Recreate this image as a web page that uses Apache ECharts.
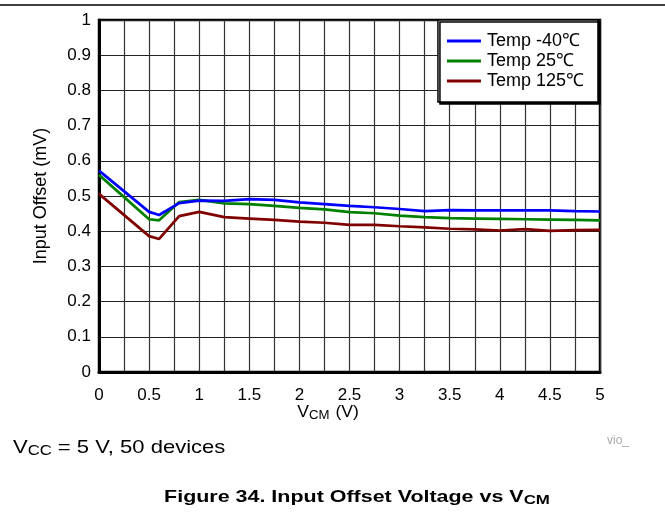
<!DOCTYPE html>
<html>
<head>
<meta charset="utf-8">
<script src="https://cdn.jsdelivr.net/npm/echarts@6/dist/echarts.min.js"></script>
<style>html,body{margin:0;padding:0;background:#fff;}#c{width:665px;height:516px;}</style>
</head>
<body>
<div id="c"></div>
<script>
const vcm = [0, 0.5, 0.6, 0.8, 1.0, 1.25, 1.5, 1.75, 2.0, 2.25, 2.5, 2.75, 3.0, 3.25, 3.5, 3.75, 4.0, 4.25, 4.5, 4.75, 5.0];
const tempM40 = [0.572, 0.455, 0.446, 0.480, 0.487, 0.486, 0.491, 0.489, 0.482, 0.477, 0.472, 0.468, 0.463, 0.457, 0.460, 0.459, 0.459, 0.459, 0.459, 0.457, 0.456];
const temp25 = [0.560, 0.434, 0.431, 0.483, 0.489, 0.479, 0.477, 0.472, 0.466, 0.462, 0.454, 0.451, 0.444, 0.440, 0.437, 0.436, 0.435, 0.434, 0.433, 0.432, 0.431];
const temp125 = [0.506, 0.386, 0.378, 0.443, 0.455, 0.440, 0.436, 0.432, 0.427, 0.424, 0.418, 0.418, 0.414, 0.411, 0.407, 0.405, 0.402, 0.406, 0.401, 0.403, 0.404];
const seriesNames = ['Temp -40℃', 'Temp 25℃', 'Temp 125℃'];
const xTicks = [0, 0.5, 1, 1.5, 2, 2.5, 3, 3.5, 4, 4.5, 5];

const pair = arr => vcm.map((x, i) => [x, arr[i]]);
const FONT = 'Liberation Sans, Arial, sans-serif';
const chart = echarts.init(document.getElementById('c'));
const colors = ['#0000ff', '#008000', '#800000'];
chart.setOption({
  animation: false,
  textStyle: { fontFamily: FONT },
  grid: { left: 99, right: 65, top: 20, bottom: 144, show: true, borderColor: '#000', borderWidth: 2.5, backgroundColor: 'transparent' },
  legend: {
    orient: 'vertical', right: 67, top: 20,
    itemWidth: 34, itemHeight: 3, itemGap: 2,
    padding: [12, 14, 12, 9],
    backgroundColor: '#fff', borderColor: '#000', borderWidth: 1.5,
    shadowColor: '#000', shadowBlur: 0, shadowOffsetX: 2, shadowOffsetY: 2,
    textStyle: { fontSize: 18, color: '#000', fontFamily: FONT, padding: [0, 0, 0, 1], lineHeight: 18 },
    icon: 'rect',
    data: seriesNames
  },
  xAxis: {
    type: 'value', min: 0, max: 5, interval: 0.25,
    axisLine: { show: true, lineStyle: { color: '#000', width: 3 } },
    axisTick: { show: false },
    splitLine: { show: true, lineStyle: { color: '#333', width: 1.2 } },
    axisLabel: {
      color: '#000', fontSize: 17, margin: 15, fontFamily: FONT,
      formatter: v => xTicks.some(t => Math.abs(t - v) < 1e-9) ? String(v) : ''
    }
  },
  yAxis: {
    type: 'value', min: 0, max: 1, interval: 0.1,
    axisLine: { show: true, lineStyle: { color: '#000', width: 3 } },
    axisTick: { show: false },
    splitLine: { show: true, lineStyle: { color: '#222', width: 1 } },
    axisLabel: { color: '#000', fontSize: 17, margin: 8, fontFamily: FONT, formatter: v => String(Math.round(v * 10) / 10) }
  },
  series: [tempM40, temp25, temp125].map((d, i) => ({
    name: seriesNames[i], type: 'line', data: pair(d), showSymbol: false, symbol: 'none',
    lineStyle: { color: colors[i], width: 2.7 }, itemStyle: { color: colors[i] }, z: 3 - i + 2
  })),
  graphic: [
    { type: 'line', shape: { x1: 0, y1: 5, x2: 665, y2: 5 }, style: { stroke: '#000', lineWidth: 1.5 } },
    { type: 'text', x: 41, y: 196, rotation: Math.PI / 2, style: { text: 'Input Offset (mV)', fontSize: 18, fontFamily: FONT, fill: '#000', align: 'center', verticalAlign: 'middle' } },
    { type: 'text', x: 328, y: 413, scaleX: 1.1, style: {
      text: 'V{s|CM} (V)', fontSize: 16, fontFamily: FONT, fill: '#000', align: 'center', verticalAlign: 'middle',
      rich: { s: { fontSize: 12, fontFamily: FONT, fill: '#000', padding: [5, 1, 0, 0] } }
    } },
    { type: 'text', x: 607, y: 441, style: { text: 'vio_', fontSize: 12, fontFamily: FONT, fill: '#aaa', verticalAlign: 'middle' } },
    { type: 'text', x: 13, y: 448, scaleX: 1.19, style: {
      text: 'V{s|CC} = 5 V, 50 devices', fontSize: 18.5, fontFamily: FONT, fill: '#000', verticalAlign: 'middle',
      rich: { s: { fontSize: 14, fontFamily: FONT, fill: '#000', padding: [7, 0, 0, 0] } }
    } },
    { type: 'text', x: 357, y: 497, scaleX: 1.3, style: {
      text: 'Figure 34. Input Offset Voltage vs V{s|CM}', fontSize: 16.5, fontWeight: 'bold', fontFamily: FONT, fill: '#000', align: 'center', verticalAlign: 'middle',
      rich: { s: { fontSize: 13, fontWeight: 'bold', fontFamily: FONT, fill: '#000', padding: [6, 0, 0, 0] } }
    } }
  ]
});
</script>
</body>
</html>
